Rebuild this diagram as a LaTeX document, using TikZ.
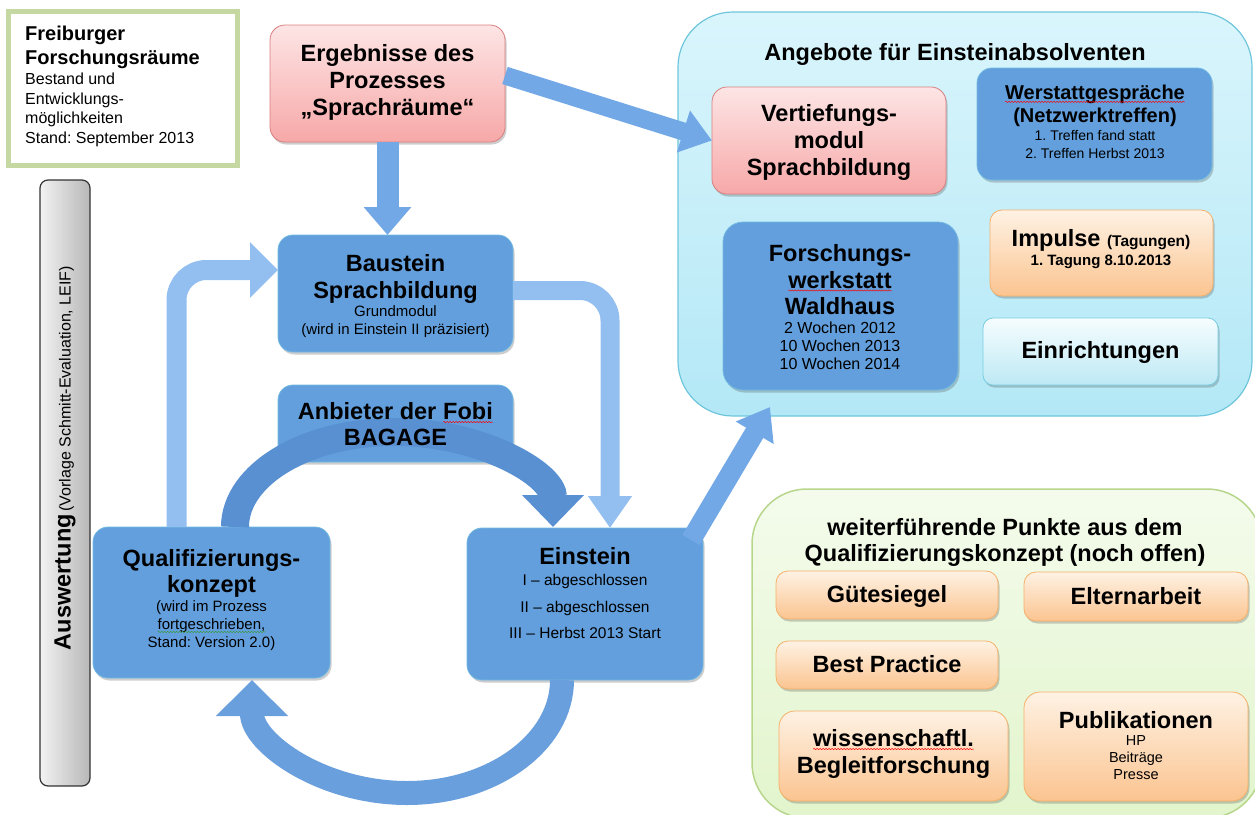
\documentclass[tikz,border=0pt]{standalone}
\usepackage{fontspec}
\setmainfont{Liberation Sans}
\usetikzlibrary{arrows.meta,calc,shadows,decorations.pathmorphing}
\frenchspacing
\newcommand\wavy[2]{\tikz[baseline=(W.base)]{\node[inner sep=0pt,outer sep=0pt,anchor=base] (W) {#2};\draw[#1,line width=0.5pt,decorate,decoration={snake,amplitude=0.6pt,segment length=3pt}] ([yshift=-2.5pt]W.base west) -- ([yshift=-2.5pt]W.base east);}}
\definecolor{boxblue}{HTML}{629FDC}
\definecolor{boxblueedge}{HTML}{72B9E2}
\definecolor{pinktop}{HTML}{FDE5E5}
\definecolor{pinkbot}{HTML}{F7A8A8}
\definecolor{pinkedge}{HTML}{D97F7F}
\definecolor{orangetop}{HTML}{FEF2E4}
\definecolor{orangebot}{HTML}{FBC490}
\definecolor{orangeedge}{HTML}{F5B06A}
\definecolor{cyantop}{HTML}{DAF5FC}
\definecolor{cyanbot}{HTML}{B3E8F6}
\definecolor{cyanedge}{HTML}{6FC6DC}
\definecolor{lighttop}{HTML}{F6FDFE}
\definecolor{lightbot}{HTML}{BDE9F5}
\definecolor{lightedge}{HTML}{78CDE2}
\definecolor{greentop}{HTML}{F4FBEC}
\definecolor{greenbot}{HTML}{E2F5CC}
\definecolor{greenedge}{HTML}{B7D68C}
\definecolor{titleedge}{HTML}{C6D8A2}
\definecolor{arrlight}{HTML}{93BEF0}
\definecolor{arrmid}{HTML}{72A8E6}
\definecolor{arrdark}{HTML}{5990D2}
\definecolor{arrbot}{HTML}{6A9FDD}
\definecolor{spellgreen}{HTML}{3A9A3A}
\begin{document}
\begin{tikzpicture}[x=1pt,y=-1pt,
  sz/.style 2 args={minimum width=#1, minimum height=#2, inner sep=0pt, outer sep=0pt},
  shad/.style={drop shadow={shadow xshift=1.5pt,shadow yshift=-2.5pt,opacity=0.28,fill=black!70}},
  bluebox/.style={draw=boxblueedge, line width=0.8pt, fill=boxblue, rounded corners=15pt, shad},
  pinkbox/.style={draw=pinkedge, line width=0.8pt, top color=pinktop, bottom color=pinkbot, rounded corners=15pt, shad},
  orangebox/.style={draw=orangeedge, line width=0.8pt, top color=orangetop, bottom color=orangebot, rounded corners=12pt, shad},
  hd/.style={font=\fontsize{23.5}{27}\selectfont\bfseries, align=center, inner sep=0pt, anchor=north},
  sm/.style={font=\fontsize{15}{18}\selectfont, align=center, inner sep=0pt, anchor=north},
  fat/.style n args={4}{line width=#1, draw=#2, -{Triangle[width=#3,length=#4]}},
]
\useasboundingbox (0,0) rectangle (1255,814);

% frames and panels
\node[draw=titleedge, line width=5pt, fill=white, sz={229pt}{154pt}] (title) at (123,88.5) {};
\node[draw=black!80, line width=1.2pt, rounded corners=8pt, left color=black!5, right color=black!28, sz={50pt}{606pt}] (bar) at (65,483) {};
\node[draw=cyanedge, line width=1.2pt, top color=cyantop, bottom color=cyanbot, rounded corners=55pt, sz={574pt}{404pt}] (angebote) at (965,214) {};
\node[draw=greenedge, line width=1.5pt, top color=greentop, bottom color=greenbot, rounded corners=55pt, sz={510pt}{329pt}] (punkte) at (1007,653.5) {};

% boxes
\node[pinkbox, sz={235pt}{117pt}] (erg) at (387.5,83.5) {};
\node[bluebox, sz={235pt}{117pt}] (bau) at (395.5,293.5) {};
\node[bluebox, sz={235pt}{77pt}] (anb) at (395.5,423.5) {};
\node[bluebox, sz={237pt}{151pt}] (qual) at (211.5,602.5) {};
\node[bluebox, sz={236pt}{152pt}] (ein) at (585,604) {};
\node[pinkbox, sz={234pt}{107pt}] (vert) at (829,140.5) {};
\node[bluebox, sz={235pt}{112pt}] (werk) at (1094.5,124) {};
\node[bluebox, rounded corners=20pt, sz={235pt}{168pt}] (fw) at (840.5,306) {};
\node[orangebox, sz={223pt}{86pt}] (imp) at (1101.5,253) {};
\node[draw=lightedge, line width=0.8pt, top color=lighttop, bottom color=lightbot, rounded corners=10pt, shad, sz={235pt}{67pt}] (einr) at (1100.5,351.5) {};
\node[orangebox, sz={222pt}{48pt}] (gue) at (887,595) {};
\node[orangebox, sz={224pt}{49pt}] (elt) at (1136,596.5) {};
\node[orangebox, sz={222pt}{48pt}] (best) at (887,665) {};
\node[orangebox, rounded corners=16pt, sz={229pt}{90pt}] (wiss) at (893.5,756) {};
\node[orangebox, rounded corners=16pt, sz={224pt}{109pt}] (pub) at (1136,746.5) {};

% arrows
\coordinate (ptip) at (770,407);
\draw[fat={22pt}{arrmid}{46pt}{28pt}] (erg.south) -- (erg.south |- bau.north);
\draw[fat={18pt}{arrmid}{42pt}{30pt}] ($(erg.east)+(0,-8)$) -- (vert.west);
\draw[fat={20pt}{arrlight}{54pt}{28pt}, rounded corners=30pt] ($(qual.north)+(-35,0)$) |- ($(bau.west)+(0,-23.5)$);
\draw[fat={19pt}{arrlight}{42pt}{32pt}, rounded corners=30pt] ($(bau.east)+(0,-3)$) -| ($(ein.north)+(25,0)$);
\draw[fat={20pt}{arrmid}{42pt}{30pt}] ($(ein.north east)+(-12,12)$) -- (ptip);
\draw[fat={28pt}{arrdark}{60pt}{32pt}] ($(qual.north)+(23.5,0)$) arc[start angle=180,end angle=0,x radius=159pt,y radius=95pt];
\draw[fat={24pt}{arrbot}{70pt}{36pt}] ($(ein.south)+(-23,0)$) arc[start angle=0,end angle=-180,x radius=155pt,y radius=113pt];

% texts
\node[anchor=north west, inner sep=0pt, align=left, font=\fontsize{20}{24.5}\selectfont\bfseries] (title-h) at (25,25.7) {Freiburger\\Forschungsräume};
\node[anchor=north west, inner sep=0pt, align=left, font=\fontsize{16}{19.5}\selectfont] (title-s) at (25,73) {Bestand und\\Entwicklungs-\\möglichkeiten\\Stand: September 2013};
\node[rotate=90, inner sep=0pt] (ausw) at (65,458) {{\fontsize{23.5}{28}\selectfont\bfseries Auswertung} {\fontsize{16}{19}\selectfont(Vorlage Schmitt-Evaluation, LEIF)}};
\node[hd] (erg-t) at (387.5,44.3) {Ergebnisse des\\Prozesses\\„Sprachräume“};
\node[hd] (bau-t) at (395.5,254.3) {Baustein\\Sprachbildung};
\node[sm] (bau-s) at (395.5,305.4) {Grundmodul\\(wird in Einstein II präzisiert)};
\node[hd, font=\fontsize{23.5}{26}\selectfont\bfseries] (anb-t) at (395.5,402.3) {Anbieter der \wavy{red}{Fobi}\\BAGAGE};
\node[hd, font=\fontsize{23.5}{26}\selectfont\bfseries] (qual-t) at (211.5,549.3) {Qualifizierungs-\\konzept};
\node[sm] (qual-s) at (211.5,600.4) {(wird im Prozess\\\wavy{spellgreen}{fortgeschrieben,}\\Stand: Version 2.0)};
\node[hd] (ein-t) at (585,547.3) {Einstein};
\node[sm, font=\fontsize{15.5}{26.5}\selectfont] (ein-s) at (585,574.4) {I – abgeschlossen\\II – abgeschlossen\\III – Herbst 2013 Start};
\node[hd] (ang-t) at (955,43.5) {Angebote für Einsteinabsolventen};
\node[hd] (vert-t) at (829,104.3) {Vertiefungs-\\modul\\Sprachbildung};
\node[hd, font=\fontsize{20}{23}\selectfont\bfseries] (werk-t) at (1095,84.7) {\wavy{red}{Werstattgespräche}\\(Netzwerktreffen)};
\node[sm, font=\fontsize{14}{18}\selectfont] (werk-s) at (1095,129.9) {1. Treffen fand statt\\2. Treffen Herbst 2013};
\node[hd, font=\fontsize{23.5}{26.5}\selectfont\bfseries] (fw-t) at (840,244.3) {Forschungs-\\\wavy{red}{werkstatt}\\Waldhaus};
\node[sm, font=\fontsize{16}{18}\selectfont] (fw-s) at (840,322.2) {2 Wochen 2012\\10 Wochen 2013\\10 Wochen 2014};
\node[hd] (imp-t) at (1101,229.3) {Impulse {\fontsize{15.5}{18}\selectfont(Tagungen)}};
\node[hd, font=\fontsize{15}{18}\selectfont\bfseries] (imp-s) at (1101,254.6) {1. Tagung 8.10.2013};
\node[hd] (einr-t) at (1100.5,341.3) {Einrichtungen};
\node[hd, font=\fontsize{23.5}{26}\selectfont\bfseries] (punkte-t) at (1005,518.3) {weiterführende Punkte aus dem\\Qualifizierungskonzept (noch offen)};
\node[hd] (gue-t) at (887,585.3) {Gütesiegel};
\node[hd] (elt-t) at (1136,587.3) {Elternarbeit};
\node[hd] (best-t) at (887,655.3) {Best Practice};
\node[hd] (wiss-t) at (893.5,729.3) {\wavy{red}{wissenschaftl.}\\Begleitforschung};
\node[hd] (pub-t) at (1136,711.3) {Publikationen};
\node[sm, font=\fontsize{14.5}{17}\selectfont] (pub-s) at (1136,735.6) {HP\\Beiträge\\Presse};
\end{tikzpicture}
\end{document}
